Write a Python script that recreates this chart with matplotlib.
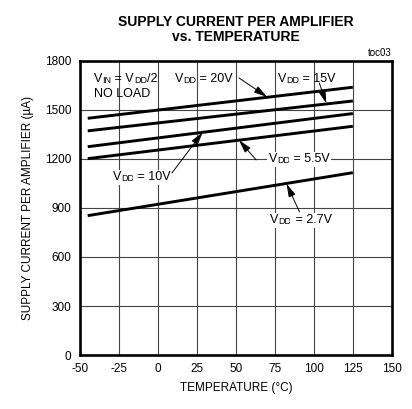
import matplotlib
matplotlib.use('Agg')
import matplotlib.pyplot as plt

plt.rcParams['font.family'] = ['Liberation Sans', 'DejaVu Sans']
plt.rcParams['axes.unicode_minus'] = False

# temperature end points of each curve (deg C)
temps = [-45, 125]

# supply current (uA) at those temperatures
vdd_20 = [1449, 1639]
vdd_15 = [1372, 1555]
vdd_10 = [1275, 1478]
vdd_55 = [1202, 1400]
vdd_27 = [853, 1116]

x_ticks = [-50, -25, 0, 25, 50, 75, 100, 125, 150]
y_ticks = [0, 300, 600, 900, 1200, 1500, 1800]


def label(ax, x, y, parts, box=None):
    ## parts: list of (text, small) drawn one after another on one baseline
    prev = None
    for s, small in parts:
        fs = 6.5 if small else 9
        kw = dict(fontsize=fs, va='bottom', ha='left', zorder=4)
        if box is not None:
            kw['bbox'] = box
        if prev is None:
            prev = ax.annotate(s, xy=(x, y), **kw)
        else:
            prev = ax.annotate(s, xy=(1, 0), xycoords=prev, **kw)


def vdd(s):
    return [('V', False), ('DD', True), (' = ' + s, False)]


def main():
    fig = plt.figure(figsize=(4.12, 4.09), dpi=100)
    ax = fig.add_axes([0.194, 0.132, 0.757, 0.719])

    for ys in [vdd_20, vdd_15, vdd_10, vdd_55, vdd_27]:
        ax.plot(temps, ys, color='black', lw=2.1, solid_capstyle='butt', zorder=3)

    ax.set_xlim(-50, 150)
    ax.set_ylim(0, 1800)
    ax.set_xticks(x_ticks)
    ax.set_yticks(y_ticks)
    ax.tick_params(length=0, pad=6, labelsize=8.5)
    ax.grid(True, color='#444444', lw=0.8)
    for sp in ax.spines.values():
        sp.set_linewidth(1.9)

    ax.set_xlabel('TEMPERATURE (°C)', fontsize=8.5, labelpad=5)
    ax.set_ylabel('SUPPLY CURRENT PER AMPLIFIER (µA)', fontsize=8.5, labelpad=8)
    fig.text(0.573, 0.963, 'SUPPLY CURRENT PER AMPLIFIER\nvs. TEMPERATURE',
             ha='center', va='top', fontsize=10, fontweight='bold', linespacing=1.1)
    ax.text(1.0, 1.01, 'toc03', transform=ax.transAxes, ha='right', va='bottom', fontsize=7)

    box = dict(boxstyle='square,pad=0.1', fc='white', ec='none')
    label(ax, -41, 1650, [('V', False), ('IN', True), (' = V', False), ('DD', True), ('/2', False)])
    label(ax, -41, 1558, [('NO LOAD', False)])
    label(ax, 11, 1650, vdd('20V'))
    label(ax, 77, 1650, vdd('15V'))
    label(ax, -29, 1050, vdd('10V'), box)
    label(ax, 71, 1160, vdd('5.5V'), box)
    label(ax, 72, 787, vdd('2.7V'), box)

    arr = dict(arrowstyle='-|>,head_length=0.8,head_width=0.22', color='black',
               lw=0.7, shrinkA=0, shrinkB=0)
    ax.annotate('', xy=(70, 1580), xytext=(52, 1696), arrowprops=arr, zorder=5)
    ax.annotate('', xy=(108, 1540), xytext=(103.5, 1665), arrowprops=arr, zorder=5)
    ax.annotate('', xy=(28.7, 1363), xytext=(9, 1114), arrowprops=arr, zorder=5)
    ax.annotate('', xy=(52, 1315), xytext=(63, 1194), arrowprops=arr, zorder=5)
    ax.annotate('', xy=(82.5, 1048), xytext=(90.8, 876), arrowprops=arr, zorder=5)

    fig.savefig('out.png', dpi=100)


if __name__ == '__main__':
    main()
